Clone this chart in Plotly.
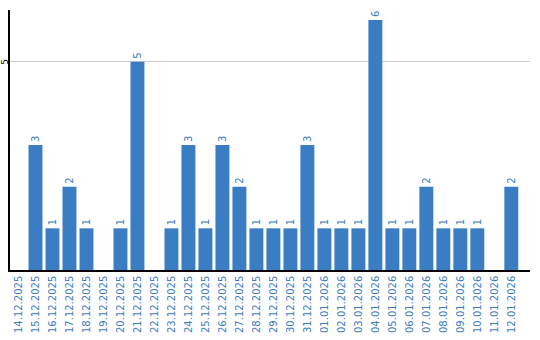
import plotly.graph_objects as go

dates = ["14.12.2025", "15.12.2025", "16.12.2025", "17.12.2025", "18.12.2025",
         "19.12.2025", "20.12.2025", "21.12.2025", "22.12.2025", "23.12.2025",
         "24.12.2025", "25.12.2025", "26.12.2025", "27.12.2025", "28.12.2025",
         "29.12.2025", "30.12.2025", "31.12.2025", "01.01.2026", "02.01.2026",
         "03.01.2026", "04.01.2026", "05.01.2026", "06.01.2026", "07.01.2026",
         "08.01.2026", "09.01.2026", "10.01.2026", "11.01.2026", "12.01.2026"]
values = [0, 3, 1, 2, 1, 0, 1, 5, 0, 1, 3, 1, 3, 2, 1, 1, 1, 3, 1, 1,
          1, 6, 1, 1, 2, 1, 1, 1, 0, 2]
y_ticks = [5]

blue = "#3b7dc2"
labels = [str(v) if v > 0 else "" for v in values]

fig = go.Figure(go.Bar(
    x=dates, y=values, marker=dict(color=blue, line=dict(width=0)),
    text=labels, textposition="outside", textangle=-90,
    textfont=dict(family="DejaVu Sans", size=10, color=blue),
    cliponaxis=False,
))

for t in y_ticks:
    fig.add_annotation(
        x=0, xref="paper", y=t, yref="y", text=str(t), showarrow=False,
        textangle=-90, xanchor="center", yanchor="middle", xshift=-5,
        font=dict(family="DejaVu Sans", size=9, color="black"),
    )

fig.update_layout(
    width=540, height=340,
    margin=dict(l=10, r=10, t=10, b=70, autoexpand=False),
    paper_bgcolor="white", plot_bgcolor="white",
    showlegend=False, bargap=0.18,
    xaxis=dict(
        type="category", range=[-0.5, 30.1], automargin=False,
        tickangle=-90, tickfont=dict(family="DejaVu Sans", size=10, color=blue),
        showline=True, linecolor="black", linewidth=1.5,
        showgrid=False, ticks="", zeroline=False,
    ),
    yaxis=dict(
        range=[0, 6.24], tickvals=y_ticks, showticklabels=False,
        automargin=False,
        showline=True, linecolor="black", linewidth=1.5,
        showgrid=True, gridcolor="#cccccc", gridwidth=1,
        zeroline=False, ticks="",
    ),
    font=dict(family="DejaVu Sans"),
)

fig.write_html("out.html")
